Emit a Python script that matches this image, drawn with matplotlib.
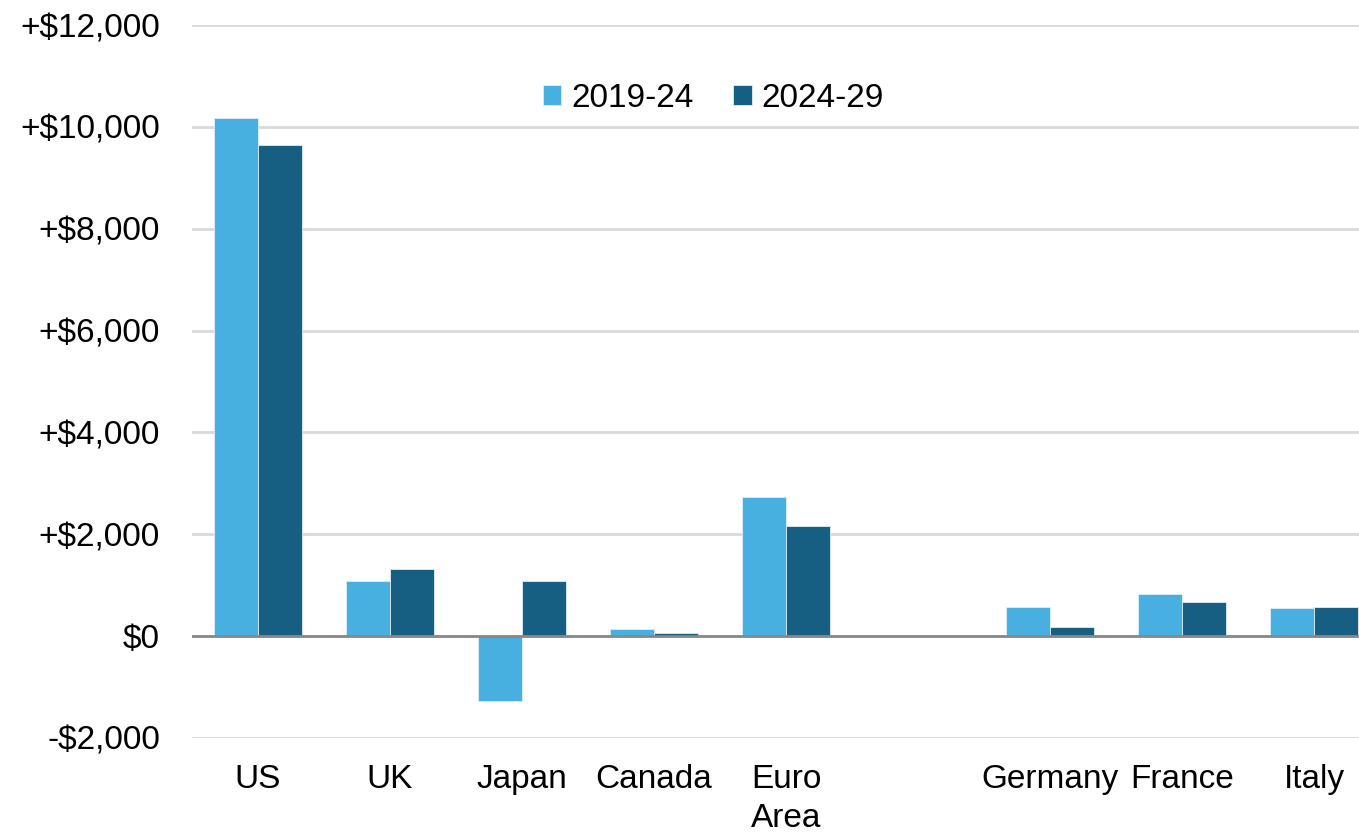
import numpy as np
import matplotlib
matplotlib.use("agg")
import matplotlib.pyplot as plt

# Change in GDP per capita, by period
countries = ["US", "UK", "Japan", "Canada", "Euro\nArea", "", "Germany", "France", "Italy"]
gdp_2019_24 = [10180, 1080, -1280, 140, 2730, np.nan, 570, 820, 560]
gdp_2024_29 = [9650, 1320, 1080, 60, 2160, np.nan, 180, 670, 570]
series_labels = ["2019-24", "2024-29"]
yticks = [-2000, 0, 2000, 4000, 6000, 8000, 10000, 12000]

light = "#48B0E0"
dark = "#175F82"

plt.rcParams["font.family"] = ["Liberation Sans", "DejaVu Sans"]

fig = plt.figure(figsize=(13.59, 8.35), dpi=100)
ax = fig.add_axes([0.1413, 0.1162, 0.8587, 0.8538])

x = np.arange(len(countries))
w = 1 / 3
ax.bar(x - w / 2, gdp_2019_24, w, color=light, edgecolor="#DDEFF8", linewidth=0.6,
       label=series_labels[0], zorder=3)
ax.bar(x + w / 2, gdp_2024_29, w, color=dark, edgecolor="#DDEFF8", linewidth=0.6,
       label=series_labels[1], zorder=3)

ax.set_ylim(-2000, 12000)
ax.set_xlim(-0.5, 8.34)
ax.set_yticks(yticks)


def fmt(v):
    if v > 0:
        return "+${:,}".format(v)
    if v < 0:
        return "-${:,}".format(-v)
    return "$0"


ax.set_yticklabels([fmt(v) for v in yticks])
ax.set_xticks(x)
ax.set_xticklabels(countries, linespacing=1.3)
ax.tick_params(axis="y", length=0, pad=23, labelsize=24)
ax.tick_params(axis="x", length=0, pad=19, labelsize=24)

ax.grid(axis="y", color="#D9D9D9", linewidth=2, zorder=0)
ax.axhline(0, color="#888888", linewidth=2, zorder=4)
for s in ax.spines.values():
    s.set_visible(False)

fig.legend(loc="center", bbox_to_anchor=(0.525, 0.882), ncol=2, frameon=False,
           fontsize=24, handlelength=0.55, handleheight=0.55, handletextpad=0.3,
           columnspacing=1.2)

fig.savefig("out.png", dpi=100)
